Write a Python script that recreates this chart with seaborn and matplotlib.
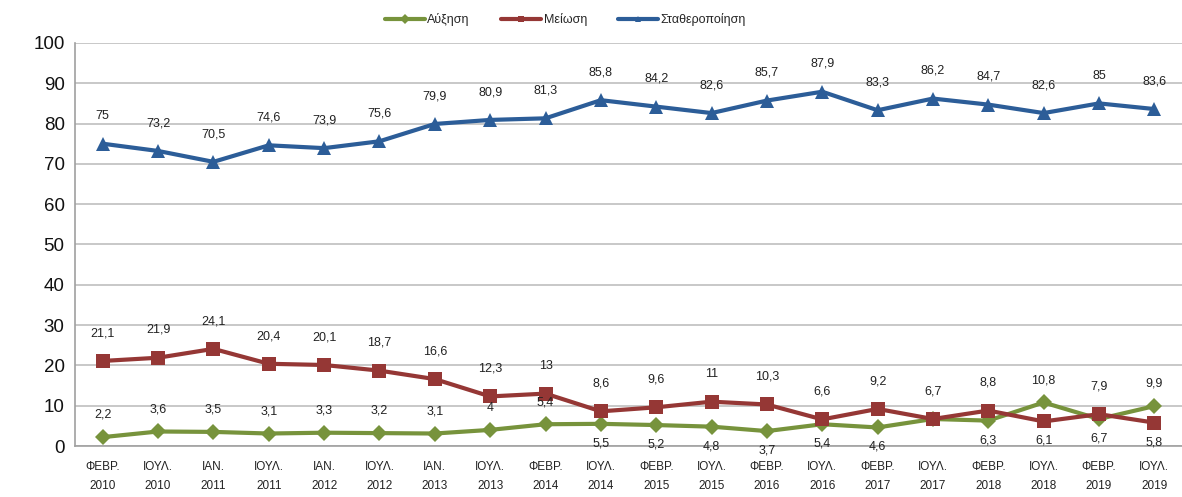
import matplotlib
matplotlib.use("Agg")
import matplotlib.pyplot as plt
import seaborn as sns
import pandas as pd
import numpy as np

periods = ["ΦΕΒΡ.\n2010", "ΙΟΥΛ.\n2010", "ΙΑΝ.\n2011", "ΙΟΥΛ.\n2011", "ΙΑΝ.\n2012",
           "ΙΟΥΛ.\n2012", "ΙΑΝ.\n2013", "ΙΟΥΛ.\n2013", "ΦΕΒΡ.\n2014", "ΙΟΥΛ.\n2014",
           "ΦΕΒΡ.\n2015", "ΙΟΥΛ.\n2015", "ΦΕΒΡ.\n2016", "ΙΟΥΛ.\n2016", "ΦΕΒΡ.\n2017",
           "ΙΟΥΛ.\n2017", "ΦΕΒΡ.\n2018", "ΙΟΥΛ.\n2018", "ΦΕΒΡ.\n2019", "ΙΟΥΛ.\n2019"]
increase = [2.2, 3.6, 3.5, 3.1, 3.3, 3.2, 3.1, 4, 5.4, 5.5, 5.2, 4.8, 3.7, 5.4, 4.6, 6.7, 6.3, 10.8, 6.7, 9.9]
decrease = [21.1, 21.9, 24.1, 20.4, 20.1, 18.7, 16.6, 12.3, 13, 8.6, 9.6, 11, 10.3, 6.6, 9.2, 6.7, 8.8, 6.1, 7.9, 5.8]
stable = [75, 73.2, 70.5, 74.6, 73.9, 75.6, 79.9, 80.9, 81.3, 85.8, 84.2, 82.6, 85.7, 87.9, 83.3, 86.2, 84.7, 82.6, 85, 83.6]
series_names = ["Αύξηση", "Μείωση", "Σταθεροποίηση"]

# label side: +1 above, -1 below, 0 hidden (coincides with another label)
inc_side = [1]*9 + [-1]*6 + [0, -1, 1, -1, 1]
dec_side = [1]*17 + [-1, 1, -1]
sta_side = [1]*20

sns.set_theme(style="white")
plt.rcParams['font.family'] = ['Liberation Sans', 'DejaVu Sans']

colors = {"Αύξηση": "#77933C", "Μείωση": "#953735", "Σταθεροποίηση": "#2C5D98"}
markers = {"Αύξηση": "D", "Μείωση": "s", "Σταθεροποίηση": "^"}
msizes = {"Αύξηση": 8, "Μείωση": 10, "Σταθεροποίηση": 10}
above_off = {"Αύξηση": 16, "Μείωση": 20, "Σταθεροποίηση": 20}

x = np.arange(len(periods))
df = pd.DataFrame({"x": np.tile(x, 3),
                   "value": increase + decrease + stable,
                   "series": np.repeat(series_names, len(periods))})

fig = plt.figure(figsize=(11.82, 4.97), dpi=100)
ax = fig.add_axes([0.0635, 0.1026, 0.9365, 0.811])

for name in series_names:
    sub = df[df.series == name]
    sns.lineplot(data=sub, x="x", y="value", ax=ax, color=colors[name], linewidth=3,
                 marker=markers[name], markersize=msizes[name], markeredgewidth=0,
                 label=name)

for name, vals, sides in [("Αύξηση", increase, inc_side), ("Μείωση", decrease, dec_side),
                          ("Σταθεροποίηση", stable, sta_side)]:
    for xi, v, s in zip(x, vals, sides):
        if s == 0:
            continue
        txt = f"{v:g}".replace(".", ",")
        off = above_off[name] if s > 0 else -14
        ax.annotate(txt, (xi, v), xytext=(0, off), textcoords="offset points",
                    ha="center", va="center", fontsize=9, color="#222222")

ax.set_xlim(-0.5, len(periods) - 0.5)
ax.set_ylim(0, 100)
ax.set_yticks(range(0, 101, 10))
ax.set_xticks(x)
ax.set_xticklabels(periods, fontsize=8.5, color="#222222", linespacing=1.7)
ax.set_xticks(np.arange(-0.5, len(periods), 1), minor=True)
ax.tick_params(axis="x", which="major", length=0, pad=11)
ax.tick_params(axis="x", which="minor", length=4, color="#A0A0A0", width=1)
ax.tick_params(axis="y", labelsize=13.5, length=4, color="#A0A0A0", labelcolor="#111111")
ax.grid(axis="y", color="#BFBFBF", linewidth=1.2)
ax.set_axisbelow(True)
ax.set_xlabel("")
ax.set_ylabel("")
for sp in ["top", "right"]:
    ax.spines[sp].set_visible(False)
for sp in ["left", "bottom"]:
    ax.spines[sp].set_color("#A0A0A0")
    ax.spines[sp].set_linewidth(1.2)

leg = ax.legend(loc="center", bbox_to_anchor=(0.443, 1.057), ncol=3, frameon=False,
                fontsize=9, handlelength=3.2, columnspacing=2.5, handletextpad=0.2)
for h in leg.legend_handles:
    h.set_markersize(5)

fig.savefig("out.png", dpi=100)
